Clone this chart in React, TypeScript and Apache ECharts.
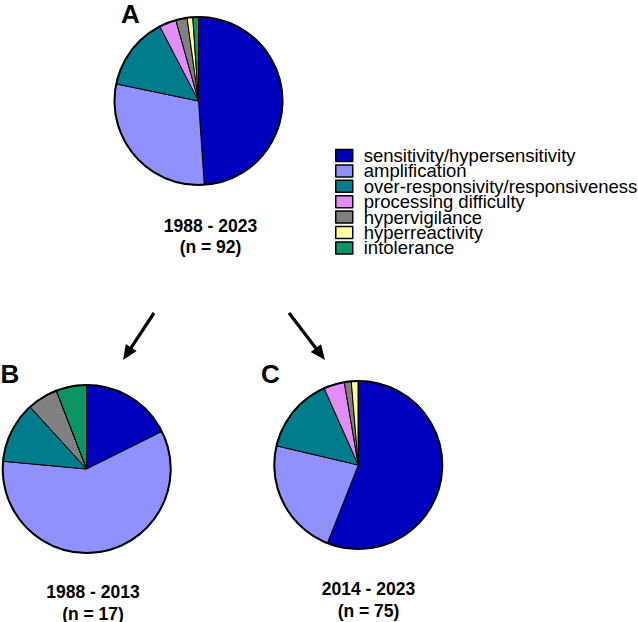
import React, { useEffect, useRef } from "react";
import * as echarts from "echarts";

const categories = [
  "sensitivity/hypersensitivity",
  "amplification",
  "over-responsivity/responsiveness",
  "processing difficulty",
  "hypervigilance",
  "hyperreactivity",
  "intolerance",
];
const countsA = [45, 27, 13, 3, 2, 1, 1];
const countsB = [3, 10, 2, 0, 1, 0, 1];
const countsC = [42, 17, 11, 3, 1, 1, 0];
const periodLabels = ["1988 - 2023", "1988 - 2013", "2014 - 2023"];
const nLabels = ["(n = 92)", "(n = 17)", "(n = 75)"];
const panelLetters = ["A", "B", "C"];

const sliceColors = ["#0000BE", "#9090FF", "#007D8C", "#E38CF5", "#808080", "#FFFF99", "#0C9462"];
const FONT = "Arial, 'Liberation Sans', sans-serif";

const panels = [
  { counts: countsA, center: [198.5, 101], letter: [130.5, 14], textX: 210.5, textY: [226, 247] },
  { counts: countsB, center: [86.7, 469], letter: [10, 374], textX: 93, textY: [591.5, 613.5] },
  { counts: countsC, center: [358.3, 465], letter: [270.5, 374], textX: 368.5, textY: [588.5, 611] },
];
const RADIUS = 84;

const arrows = [
  { from: [154, 313], to: [123, 360] },
  { from: [289, 313], to: [325, 360] },
];

function arrowElements(from: number[], to: number[]) {
  const dx = to[0] - from[0];
  const dy = to[1] - from[1];
  const len = Math.sqrt(dx * dx + dy * dy);
  const ux = dx / len;
  const uy = dy / len;
  const headLen = 15;
  const half = 6.5;
  const bx = to[0] - ux * headLen;
  const by = to[1] - uy * headLen;
  const nx = -uy;
  const ny = ux;
  return [
    {
      type: "line",
      shape: { x1: from[0], y1: from[1], x2: bx + ux * 2, y2: by + uy * 2 },
      style: { stroke: "#000", lineWidth: 3.2 },
    },
    {
      type: "polygon",
      shape: {
        points: [
          [to[0], to[1]],
          [bx + nx * half, by + ny * half],
          [bx - nx * half, by - ny * half],
        ],
      },
      style: { fill: "#000" },
    },
  ];
}

export default function App() {
  const ref = useRef<HTMLDivElement>(null);
  useEffect(() => {
    document.body.style.margin = "0";
    const chart = echarts.init(ref.current!, null, { renderer: "svg" });

    const series: any[] = [];
    panels.forEach((p, i) => {
      series.push({
        type: "pie",
        name: "panel" + panelLetters[i],
        center: p.center,
        radius: RADIUS,
        startAngle: 90,
        clockwise: true,
        label: { show: false },
        labelLine: { show: false },
        emphasis: { disabled: true },
        itemStyle: { borderColor: "#000", borderWidth: 1 },
        data: categories.map((c, k) => ({
          name: c,
          value: p.counts[k],
          itemStyle: { color: sliceColors[k] },
        })),
      });
      series.push({
        type: "pie",
        name: "outline" + panelLetters[i],
        center: p.center,
        radius: RADIUS,
        silent: true,
        z: 5,
        label: { show: false },
        labelLine: { show: false },
        itemStyle: { color: "transparent", borderColor: "#000", borderWidth: 2 },
        data: [{ name: "", value: 1 }],
      });
    });

    const graphics: any[] = [];
    panels.forEach((p, i) => {
      graphics.push({
        type: "text",
        x: p.letter[0],
        y: p.letter[1],
        style: {
          text: panelLetters[i],
          font: `bold 26px ${FONT}`,
          fill: "#000",
          align: "center",
          verticalAlign: "middle",
          textAlign: "center",
          textVerticalAlign: "middle",
        },
      });
      [periodLabels[i], nLabels[i]].forEach((t, j) => {
        graphics.push({
          type: "text",
          x: p.textX,
          y: p.textY[j],
          style: {
            text: t,
            font: `bold 17.5px ${FONT}`,
            fill: "#000",
            align: "center",
            verticalAlign: "middle",
            textAlign: "center",
            textVerticalAlign: "middle",
          },
        });
      });
    });
    arrows.forEach((a) => graphics.push(...arrowElements(a.from, a.to)));

    chart.setOption({
      animation: false,
      backgroundColor: "#fff",
      legend: {
        orient: "vertical",
        left: 335,
        top: 146,
        padding: 0,
        data: categories,
        icon: "rect",
        itemWidth: 17,
        itemHeight: 12,
        itemGap: -3.6,
        selectedMode: false,
        itemStyle: { borderColor: "#000", borderWidth: 1.5 },
        textStyle: {
          fontSize: 18.5,
          fontFamily: FONT,
          color: "#000",
          padding: [0, 0, 0, 6],
        },
      },
      series,
      graphic: { elements: graphics },
    });
    return () => chart.dispose();
  }, []);
  return <div ref={ref} style={{ width: 638, height: 622 }} />;
}
